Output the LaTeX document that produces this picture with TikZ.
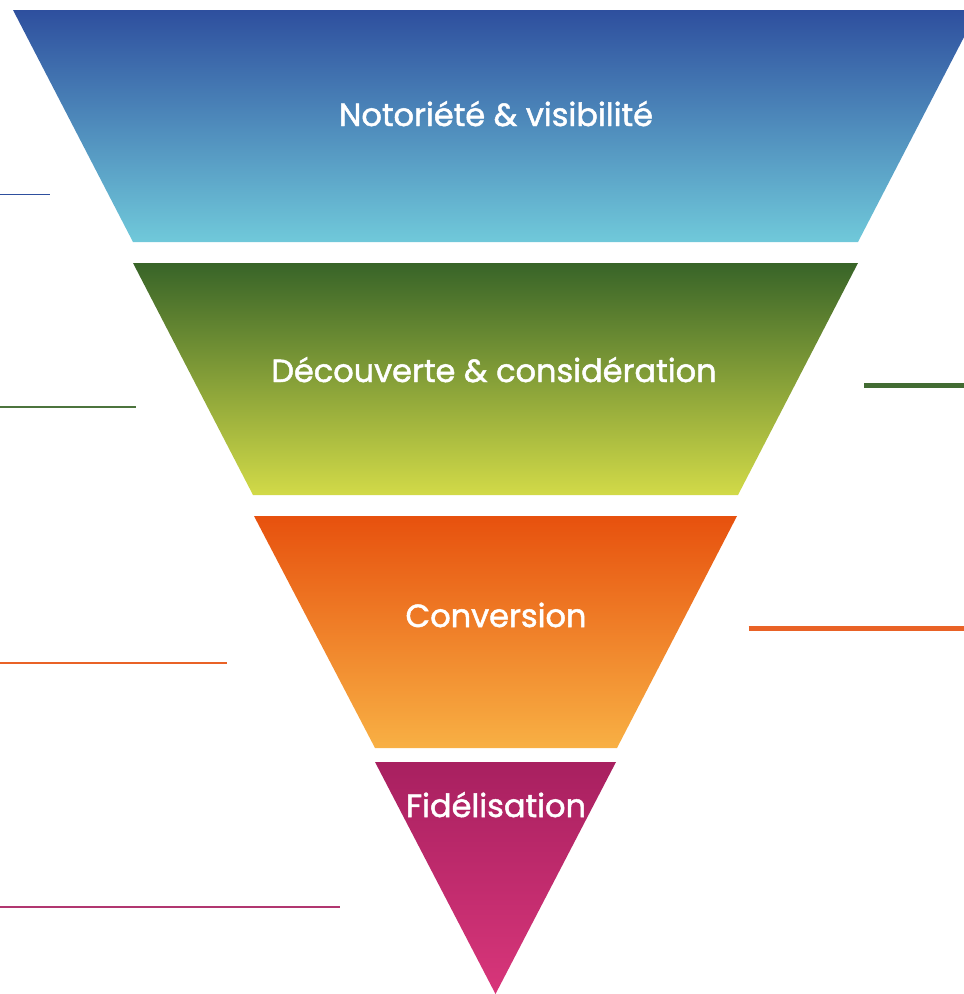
\documentclass[tikz,border=0pt]{standalone}
\usepackage{fontspec}
\setmainfont{Poppins}
\newfontfamily\stagefont{Poppins}[FakeBold=1.5]
\definecolor{blueTop}{HTML}{2E4F9E}
\definecolor{blueBot}{HTML}{70C9DA}
\definecolor{greenTop}{HTML}{386428}
\definecolor{greenBot}{HTML}{D2DA48}
\definecolor{orangeTop}{HTML}{E7510E}
\definecolor{orangeBot}{HTML}{F8B044}
\definecolor{pinkTop}{HTML}{A82060}
\definecolor{pinkBot}{HTML}{D8367A}
\begin{document}
\begin{tikzpicture}[x=1pt,y=-1pt,
  stage/.style={anchor=base,text=white,inner sep=0pt,font=\stagefont\fontsize{32}{38}\selectfont}]
\useasboundingbox (0,0) rectangle (964,994);
% Funnel stages, top to bottom
\shade[top color=blueTop,bottom color=blueBot] (13,10) -- (978,10) -- (858,242) -- (133,242) -- cycle;
\shade[top color=greenTop,bottom color=greenBot] (133,263) -- (858,263) -- (738,495) -- (253,495) -- cycle;
\shade[top color=orangeTop,bottom color=orangeBot] (254,516) -- (737,516) -- (617,748) -- (375,748) -- cycle;
\shade[top color=pinkTop,bottom color=pinkBot] (375,762) -- (616,762) -- (495.5,994) -- cycle;
\node[stage] (noto) at (496,126) {Notoriété \& visibilité};
\node[stage] (decou) at (494,382) {Découverte \& considération};
\node[stage] (conv) at (496,627) {Conversion};
\node[stage] (fidel) at (496,817) {Fidélisation};
% Rules at the sides
\draw[blueTop,line width=1.2] (0,194.5) -- (49.5,194.5);
\draw[greenTop!90!white,line width=1.2] (0,407) -- (136,407);
\draw[greenTop!95!white,line width=5] (864,385) -- (964,385);
\draw[orangeTop!90!white,line width=1.5] (0,663) -- (227,663);
\draw[orangeTop!90!white,line width=5] (748.5,628.5) -- (964,628.5);
\draw[pinkTop!90!white,line width=1.5] (0,907) -- (340,907);
\end{tikzpicture}
\end{document}
